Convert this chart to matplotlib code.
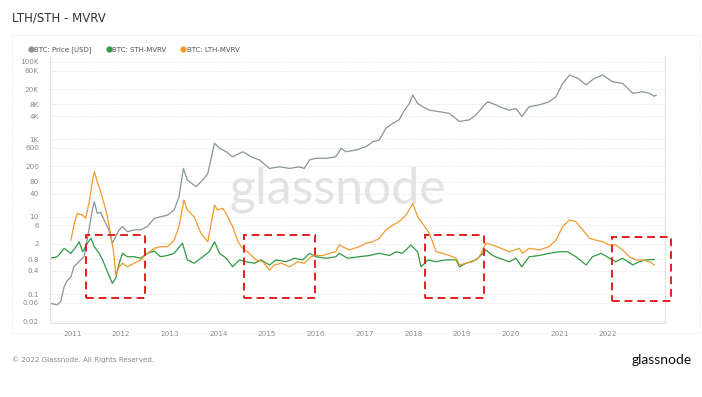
import matplotlib.pyplot as plt
from matplotlib.lines import Line2D
from matplotlib.patches import Rectangle

# decimal years / values
price_t = [2010.55, 2010.69, 2010.76, 2010.83, 2010.90, 2010.97, 2011.03, 2011.17, 2011.24,
           2011.34, 2011.41, 2011.45, 2011.51, 2011.58, 2011.65, 2011.75, 2011.82, 2011.89,
           2011.96, 2012.03, 2012.13, 2012.27, 2012.40, 2012.54, 2012.68, 2012.81, 2012.95,
           2013.09, 2013.19, 2013.28, 2013.36, 2013.50, 2013.54, 2013.71, 2013.78, 2013.92,
           2014.02, 2014.16, 2014.29, 2014.50, 2014.67, 2014.84, 2015.05, 2015.25, 2015.46,
           2015.66, 2015.76, 2015.87, 2016.00, 2016.21, 2016.41, 2016.52, 2016.62, 2016.83,
           2017.03, 2017.17, 2017.30, 2017.44, 2017.58, 2017.71, 2017.82, 2017.92, 2017.99,
           2018.09, 2018.19, 2018.33, 2018.54, 2018.74, 2018.95, 2019.15, 2019.29, 2019.43,
           2019.53, 2019.70, 2019.77, 2019.97, 2020.11, 2020.23, 2020.38, 2020.59, 2020.79,
           2020.93, 2021.07, 2021.21, 2021.38, 2021.55, 2021.72, 2021.89, 2022.09, 2022.30,
           2022.51, 2022.71, 2022.85, 2022.95, 2022.99]
price = [0.058, 0.053, 0.064, 0.156, 0.23, 0.28, 0.51, 0.77, 0.93,
         4.6, 15, 24.6, 12.3, 13, 8.3, 4.6, 2.07, 3.1,
         4.6, 5.6, 4.1, 4.6, 4.6, 5.6, 9.1, 10, 11,
         15, 33, 178, 89, 66, 60, 99, 132, 795,
         590, 480, 355, 480, 355, 295, 178, 195, 178,
         195, 178, 295, 325, 325, 355, 590, 480, 534,
         650, 870, 960, 1950, 2600, 3200, 5700, 8500, 14000,
         8500, 7000, 5700, 5200, 4700, 2900, 3200, 4300, 7000,
         9400, 7800, 7000, 5700, 6300, 3900, 7000, 7800, 9400,
         12600, 28000, 46000, 38000, 25700, 38000, 46000, 31000, 28000,
         15500, 17000, 15500, 13000, 14000]

sth_t = [2010.55, 2010.69, 2010.83, 2010.97, 2011.10, 2011.14, 2011.21, 2011.31, 2011.38,
         2011.45, 2011.55, 2011.62, 2011.72, 2011.82, 2011.89, 2011.96, 2012.03, 2012.13,
         2012.27, 2012.40, 2012.54, 2012.68, 2012.81, 2012.95, 2013.09, 2013.26, 2013.36,
         2013.50, 2013.68, 2013.81, 2013.92, 2014.02, 2014.16, 2014.29, 2014.43, 2014.57,
         2014.74, 2014.87, 2015.05, 2015.18, 2015.39, 2015.56, 2015.73, 2015.87, 2016.00,
         2016.21, 2016.41, 2016.48, 2016.65, 2016.89, 2017.10, 2017.30, 2017.51, 2017.65,
         2017.78, 2017.95, 2018.09, 2018.16, 2018.30, 2018.47, 2018.67, 2018.88, 2018.95,
         2019.08, 2019.29, 2019.43, 2019.49, 2019.63, 2019.77, 2019.97, 2020.11, 2020.23,
         2020.38, 2020.59, 2020.79, 2021.00, 2021.17, 2021.34, 2021.55, 2021.68, 2021.86,
         2022.03, 2022.16, 2022.30, 2022.51, 2022.64, 2022.78, 2022.95]
sth = [0.85, 0.93, 1.53, 1.14, 1.87, 2.27, 1.25, 2.07, 2.78,
       1.69, 1.14, 0.77, 0.38, 0.19, 0.26, 0.63, 1.14, 0.93,
       0.93, 0.85, 1.14, 1.3, 0.93, 1.0, 1.14, 2.07, 0.77,
       0.63, 0.93, 1.25, 2.27, 1.14, 0.85, 0.51, 0.77, 0.69,
       0.63, 0.77, 0.57, 0.77, 0.69, 0.85, 0.77, 1.14, 0.93,
       0.85, 0.93, 1.14, 0.85, 0.93, 1.0, 1.14, 1.0, 1.25,
       1.14, 1.87, 1.25, 0.51, 0.77, 0.69, 0.77, 0.77, 0.51,
       0.63, 0.77, 1.14, 1.39, 1.0, 0.85, 0.69, 0.85, 0.51,
       0.93, 1.0, 1.14, 1.25, 1.25, 0.93, 0.57, 0.93, 1.14,
       0.85, 0.69, 0.85, 0.57, 0.69, 0.77, 0.79]

lth_t = [2010.97, 2011.04, 2011.10, 2011.21, 2011.27, 2011.34, 2011.41, 2011.45, 2011.51,
         2011.58, 2011.65, 2011.72, 2011.78, 2011.85, 2011.89, 2011.96, 2012.03, 2012.13,
         2012.27, 2012.40, 2012.54, 2012.68, 2012.81, 2012.95, 2013.09, 2013.19, 2013.29,
         2013.36, 2013.50, 2013.64, 2013.78, 2013.85, 2013.92, 2013.98, 2014.09, 2014.19,
         2014.29, 2014.40, 2014.50, 2014.63, 2014.77, 2014.91, 2015.05, 2015.15, 2015.29,
         2015.46, 2015.63, 2015.76, 2015.90, 2016.00, 2016.14, 2016.28, 2016.41, 2016.48,
         2016.62, 2016.69, 2016.89, 2017.03, 2017.17, 2017.30, 2017.44, 2017.58, 2017.71,
         2017.85, 2017.99, 2018.09, 2018.19, 2018.33, 2018.47, 2018.60, 2018.74, 2018.88,
         2018.95, 2019.08, 2019.22, 2019.36, 2019.49, 2019.63, 2019.77, 2019.97, 2020.18,
         2020.24, 2020.38, 2020.59, 2020.79, 2020.93, 2021.07, 2021.21, 2021.34, 2021.48,
         2021.62, 2021.75, 2021.89, 2022.03, 2022.16, 2022.30, 2022.44, 2022.57, 2022.71,
         2022.85, 2022.95]
lth = [2.5, 6.8, 12.3, 11, 9.1, 22, 81, 146, 81,
       45, 22, 10, 3.75, 1.14, 0.31, 0.51, 0.63, 0.51,
       0.63, 0.77, 1.14, 1.53, 1.69, 1.69, 2.5, 5.6, 27,
       15, 10, 3.75, 2.27, 6.8, 20, 15, 16.6, 10,
       5.6, 2.27, 1.53, 1.14, 0.77, 0.69, 0.42, 0.57, 0.63,
       0.51, 0.69, 0.63, 0.93, 1.0, 1.0, 1.14, 1.25, 1.87,
       1.53, 1.39, 1.69, 2.07, 2.27, 2.78, 4.6, 6.1, 7.5,
       11, 22, 10, 6.8, 3.75, 1.25, 1.14, 1.0, 0.85,
       0.57, 0.63, 0.69, 0.93, 2.07, 1.87, 1.6, 1.25, 1.53,
       1.14, 1.53, 1.39, 1.69, 2.5, 5.6, 8.3, 7.5, 4.6,
       2.78, 2.5, 2.27, 1.87, 1.87, 1.39, 0.93, 0.77, 0.77,
       0.69, 0.57]

# highlighted periods: (start, end, low, high)
boxes = [(2011.27, 2012.50, 0.079, 3.4),
         (2014.53, 2015.99, 0.079, 3.4),
         (2018.25, 2019.46, 0.079, 3.4),
         (2022.09, 2023.30, 0.067, 3.0)]

yticks = [0.02, 0.06, 0.1, 0.4, 0.8, 2, 6, 10, 40, 80, 200, 600, 1000, 4000, 8000,
          20000, 60000, 100000]
ytick_labels = ['0.02', '0.06', '0.1', '0.4', '0.8', '2', '6', '10', '40', '80', '200',
                '600', '1K', '4K', '8K', '20K', '60K', '100K']
years = list(range(2011, 2023))

fig = plt.figure(figsize=(7.02, 3.97), dpi=100)
ax = fig.add_axes([50/702, 1-323/397, 615/702, 267/397])

ax.plot(price_t, price, color='#8a9596', lw=0.9)
ax.plot(sth_t, sth, color='#2f9a42', lw=0.9)
ax.plot(lth_t, lth, color='#f39a2e', lw=0.9)

for x0, x1, lo, hi in boxes:
    ax.add_patch(Rectangle((x0, lo), x1 - x0, hi - lo, fill=False, ec='#e02020',
                           lw=1.4, ls=(0, (4, 2.5)), clip_on=False, zorder=5))

ax.set_yscale('log')
ax.set_ylim(10**-1.744, 10**5.155)
ax.set_xlim(2010.54, 2023.17)
ax.set_yticks(yticks)
ax.set_yticklabels(ytick_labels)
ax.minorticks_off()
ax.set_xticks(years)
ax.set_xticklabels([str(y) for y in years])
ax.tick_params(length=0, labelsize=5.2, colors='#8a8a8a', pad=6)
ax.tick_params(axis='y', pad=8)
ax.grid(axis='y', ls=':', color='#dcdcdc', lw=0.6)
ax.spines['top'].set_visible(False)
for s in ['left', 'bottom', 'right']:
    ax.spines[s].set_color('#e2e2e2')
    ax.spines[s].set_linewidth(0.8)

ax.text(0.468, 0.50, 'glassnode', transform=ax.transAxes, fontsize=36, color='#e3e3e3',
        ha='center', va='center', family='Lato', zorder=0)

handles = [Line2D([], [], marker='o', ls='none', color=c, ms=3.5)
           for c in ['#8a9596', '#2f9a42', '#f39a2e']]
fig.legend(handles, ['BTC: Price [USD]', 'BTC: STH-MVRV', 'BTC: LTH-MVRV'],
           loc='center left', bbox_to_anchor=(22/702, 1-50/397), ncol=3, frameon=False,
           fontsize=5, labelcolor='#555555', handletextpad=0.1, columnspacing=2.0,
           handlelength=0.8)

fig.add_artist(Rectangle((12/702, 1-333/397), 688/702, 298/397, transform=fig.transFigure,
                         fill=False, ec='#e0e0e0', lw=0.6, ls=':'))
fig.text(12/702, 1-18/397, 'LTH/STH - MVRV', fontsize=8.5, color='#333333', va='center')
fig.text(12/702, 1-360/397, '\u00a9 2022 Glassnode. All Rights Reserved.', fontsize=5.1,
         color='#888888', va='center')
fig.text(692/702, 1-360/397, 'glassnode', fontsize=10, color='#111111', va='center',
         ha='right', family='Lato')

fig.savefig('out.png', dpi=100)
